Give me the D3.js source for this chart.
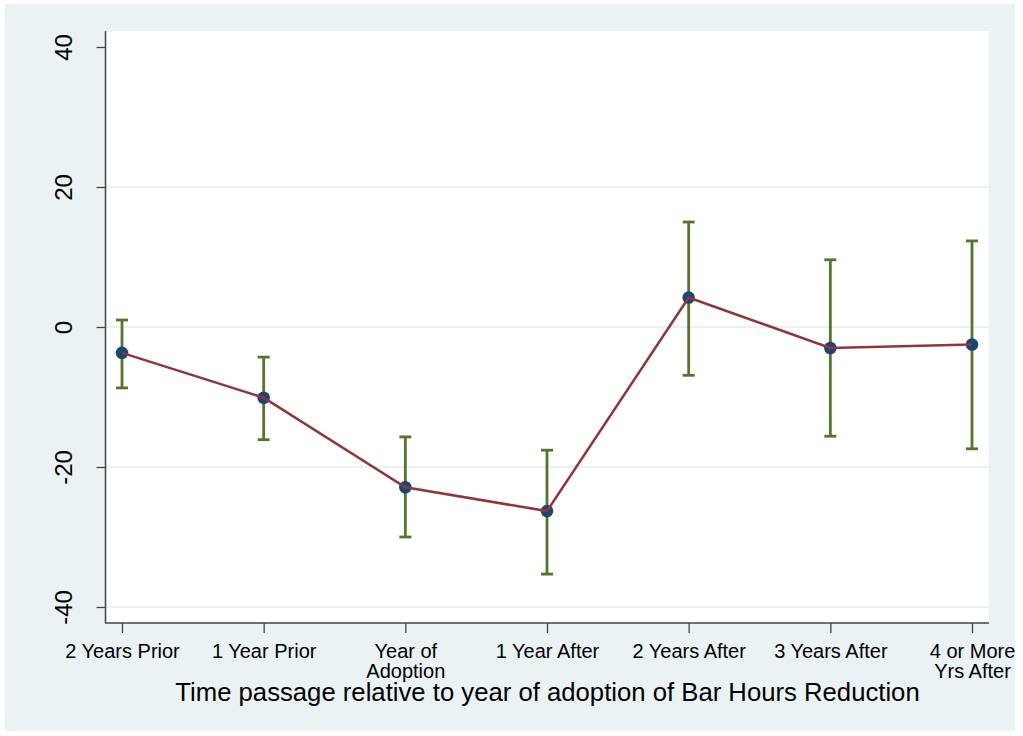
<!DOCTYPE html>
<html><head><meta charset="utf-8">
<script src="https://cdn.jsdelivr.net/npm/d3@7"></script>
<style>html,body{margin:0;padding:0;background:#fff;}svg{display:block;}</style>
</head><body>
<svg id="chart" width="1023" height="736"></svg>
<script>
const categories = ["2 Years Prior","1 Year Prior","Year of\nAdoption","1 Year After","2 Years After","3 Years After","4 or More\nYrs After"];
const estimates = [-3.7, -10.1, -22.9, -26.3, 4.2, -3.0, -2.5];
const ciUpper = [1.0, -4.3, -15.7, -17.6, 15.0, 9.6, 12.3];
const ciLower = [-8.7, -16.1, -30.0, -35.3, -6.9, -15.6, -17.4];
const yTicks = [-40, -20, 0, 20, 40];
const gridTicks = [-40, -20, 20, 0];
const xTitle = "Time passage relative to year of adoption of Bar Hours Reduction";

const svg = d3.select("#chart");
const font = "'Liberation Sans', Arial, sans-serif";
const bg = "#eaf2f3";

svg.append("rect").attr("x",5).attr("y",4).attr("width",1010).attr("height",727).attr("fill",bg);
const plot = {l:106, r:989, t:31, b:623};
svg.append("rect").attr("x",plot.l).attr("y",plot.t).attr("width",plot.r-plot.l).attr("height",plot.b-plot.t).attr("fill","#fff");

const x = d3.scalePoint().domain(categories).range([122, 972]);
const y = d3.scaleLinear().domain([-40, 40]).range([607, 47]);

// gridlines
svg.append("g").selectAll("line").data(gridTicks).join("line")
  .attr("x1", plot.l).attr("x2", plot.r)
  .attr("y1", d=>y(d)).attr("y2", d=>y(d))
  .attr("stroke", bg).attr("stroke-width", 2);

// y axis
const yAxis = d3.axisLeft(y).tickValues(yTicks).tickSize(9).tickPadding(0).tickFormat(d=>String(d));
const gy = svg.append("g").attr("transform", `translate(${plot.l - 0.5},0)`).call(yAxis);
gy.select(".domain").remove();
gy.selectAll(".tick line").attr("stroke","#444").attr("stroke-width",1.3);
gy.selectAll(".tick text").remove();
gy.selectAll(".tick").append("text")
  .attr("transform","translate(-42,0) rotate(-90)")
  .attr("text-anchor","middle").attr("dy","0.35em")
  .attr("fill","#000").style("font-family",font).style("font-size","24px")
  .text(d=>String(d));
svg.append("line").attr("x1",plot.l-0.5).attr("x2",plot.l-0.5).attr("y1",plot.t).attr("y2",plot.b)
  .attr("stroke","#444").attr("stroke-width",1.5);

// x axis
const xAxis = d3.axisBottom(x).tickSize(10).tickFormat("");
const gx = svg.append("g").attr("transform", `translate(0,${plot.b})`).call(xAxis);
gx.select(".domain").remove();
gx.selectAll(".tick line").attr("stroke","#444").attr("stroke-width",1.3);
gx.selectAll(".tick").append("text")
  .attr("text-anchor","middle").attr("fill","#000")
  .style("font-family",font).style("font-size","20px")
  .each(function(d){
    const lines = d.split("\n");
    d3.select(this).selectAll("tspan").data(lines).join("tspan")
      .attr("x",0).attr("y",(l,i)=>35+i*20).text(l=>l);
  });
svg.append("line").attr("x1",plot.l-1).attr("x2",plot.r).attr("y1",plot.b).attr("y2",plot.b)
  .attr("stroke","#444").attr("stroke-width",1.5);

// axis title
svg.append("text").attr("x",(plot.l+plot.r)/2).attr("y",701)
  .attr("text-anchor","middle").attr("fill","#000")
  .style("font-family",font).style("font-size","25.7px").text(xTitle);

const data = categories.map((c,i)=>({c, est:estimates[i], lo:ciLower[i], hi:ciUpper[i]}));

// CI bars
const green = "#55752f";
const ci = svg.append("g");
ci.selectAll("line.v").data(data).join("line").attr("class","v")
  .attr("x1",d=>x(d.c)).attr("x2",d=>x(d.c)).attr("y1",d=>y(d.lo)).attr("y2",d=>y(d.hi))
  .attr("stroke",green).attr("stroke-width",2.8);
ci.selectAll("line.t").data(data).join("line").attr("class","t")
  .attr("x1",d=>x(d.c)-6).attr("x2",d=>x(d.c)+6).attr("y1",d=>y(d.hi)).attr("y2",d=>y(d.hi))
  .attr("stroke",green).attr("stroke-width",2.8);
ci.selectAll("line.b").data(data).join("line").attr("class","b")
  .attr("x1",d=>x(d.c)-6).attr("x2",d=>x(d.c)+6).attr("y1",d=>y(d.lo)).attr("y2",d=>y(d.lo))
  .attr("stroke",green).attr("stroke-width",2.8);

// markers
svg.append("g").selectAll("circle").data(data).join("circle")
  .attr("cx",d=>x(d.c)).attr("cy",d=>y(d.est)).attr("r",6.3).attr("fill","#1a476f");

// connecting line
svg.append("path").datum(data)
  .attr("d", d3.line().x(d=>x(d.c)).y(d=>y(d.est)))
  .attr("fill","none").attr("stroke","#90353b").attr("stroke-width",2.5);
</script>
</body></html>
